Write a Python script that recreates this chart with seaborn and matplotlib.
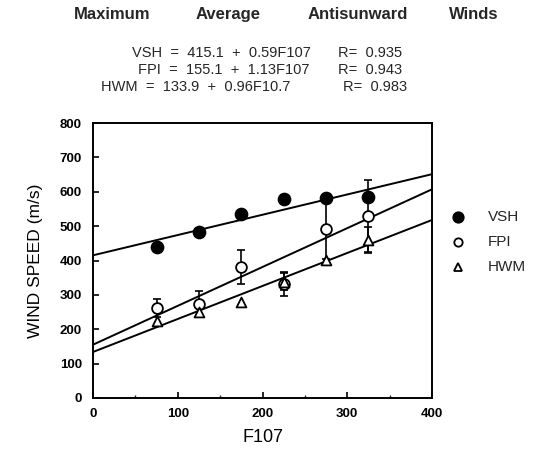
import matplotlib
matplotlib.use("Agg")
import matplotlib.pyplot as plt
import seaborn as sns
import numpy as np
import pandas as pd

sns.set_theme(style="ticks")
plt.rcParams['font.family'] = ['Liberation Sans', 'DejaVu Sans']

f107 = [75, 125, 175, 225, 275, 325]
vsh = [440, 484, 534, 579, 583, 586]
fpi = [262, 274, 381, 333, 493, 530]
hwm = [224, 250, 279, 338, 401, 459]
fpi_err = [25, 38, 50, 35, 90, 105]
hwm_err = [0, 0, 0, 25, 0, 38]

series_names = ["VSH", "FPI", "HWM"]
intercepts = [415.1, 155.1, 133.9]
slopes = [0.59, 1.13, 0.96]
title_words = ["Maximum", "Average", "Antisunward", "Winds"]
eq_left = ["VSH  =  415.1  +  0.59F107",
           "FPI  =  155.1  +  1.13F107",
           "HWM  =  133.9  +  0.96F10.7"]
eq_right = ["R=  0.935", "R=  0.943", "R=  0.983"]
fit_x = [0, 400]

W, H = 542, 451
fig = plt.figure(figsize=(W / 100, H / 100), dpi=100)
ax = fig.add_axes([93 / W, 1 - 398 / H, (432 - 93) / W, (398 - 123) / H])

# fit lines
for b, m in zip(intercepts, slopes):
    df = pd.DataFrame({"x": fit_x, "y": [b + m * x for x in fit_x]})
    sns.lineplot(data=df, x="x", y="y", ax=ax, color="black", lw=1.4, legend=False)

# error bars
ax.errorbar(f107, fpi, yerr=fpi_err, fmt="none", ecolor="black", elinewidth=1.2, capsize=3, capthick=1.2)
hx = [x for x, e in zip(f107, hwm_err) if e > 0]
hy = [y for y, e in zip(hwm, hwm_err) if e > 0]
he = [e for e in hwm_err if e > 0]
ax.errorbar(hx, hy, yerr=he, fmt="none", ecolor="black", elinewidth=1.2, capsize=3, capthick=1.2)

pts = pd.DataFrame({"x": f107 * 3, "y": vsh + fpi + hwm,
                    "s": ["VSH"] * 6 + ["FPI"] * 6 + ["HWM"] * 6})
sns.scatterplot(data=pts[pts.s == "VSH"], x="x", y="y", ax=ax, marker="o", s=75,
                color="black", edgecolor="black", linewidth=1.2, legend=False, zorder=4)
sns.scatterplot(data=pts[pts.s == "FPI"], x="x", y="y", ax=ax, marker="o", s=60,
                facecolor="white", edgecolor="black", linewidth=1.3, legend=False, zorder=4)
sns.scatterplot(data=pts[pts.s == "HWM"], x="x", y="y", ax=ax, marker="^", s=50,
                facecolor="white", edgecolor="black", linewidth=1.3, legend=False, zorder=4)

ax.set_xlim(0, 400)
ax.set_ylim(0, 800)
ax.set_xticks([0, 100, 200, 300, 400])
ax.set_xticks([50, 150, 250, 350], minor=True)
ax.set_yticks(range(0, 801, 100))
ax.tick_params(axis="both", direction="in", length=4, width=1.2, labelsize=9.5, colors="black")
ax.tick_params(axis="x", pad=7)
ax.tick_params(axis="y", pad=8)
ax.tick_params(axis="x", which="minor", direction="in", length=2.5, width=1)
for lab in ax.get_xticklabels() + ax.get_yticklabels():
    lab.set_fontweight("bold")
for sp in ax.spines.values():
    sp.set_linewidth(1.4)
    sp.set_color("black")
    sp.set_visible(True)

ax.set_xlabel("F107", fontsize=13, labelpad=7, color="black")
ax.set_ylabel("WIND SPEED (m/s)", fontsize=12.5, labelpad=12, color="black")

# title, word by word (reference uses wide letter spacing)
word_x = [112, 228, 358, 474]
for w, x in zip(title_words, word_x):
    fig.text(x / W, 1 - 19 / H, w, ha="center", va="baseline", fontsize=12, fontweight="bold")

eq_x = [132, 138, 101]
r_x = [338, 338, 343]
for i, (l, r) in enumerate(zip(eq_left, eq_right)):
    y = 1 - (57 + 17 * i) / H
    fig.text(eq_x[i] / W, y, l, ha="left", va="baseline", fontsize=10.5)
    fig.text(r_x[i] / W, y, r, ha="left", va="baseline", fontsize=10.5)

# legend
leg_y = [217, 242, 267]
markers = [("o", "black", 7.5), ("o", "white", 6), ("^", "white", 6)]
for name, yy, (mk, fc, ms) in zip(series_names, leg_y, markers):
    fig.lines.append(plt.Line2D([458 / W], [1 - yy / H], marker=mk, markersize=ms,
                                markerfacecolor=fc, markeredgecolor="black", markeredgewidth=1.3,
                                linestyle="none", transform=fig.transFigure))
    fig.text(488 / W, 1 - yy / H, name, ha="left", va="center", fontsize=11)

fig.savefig("out.png", dpi=100)
